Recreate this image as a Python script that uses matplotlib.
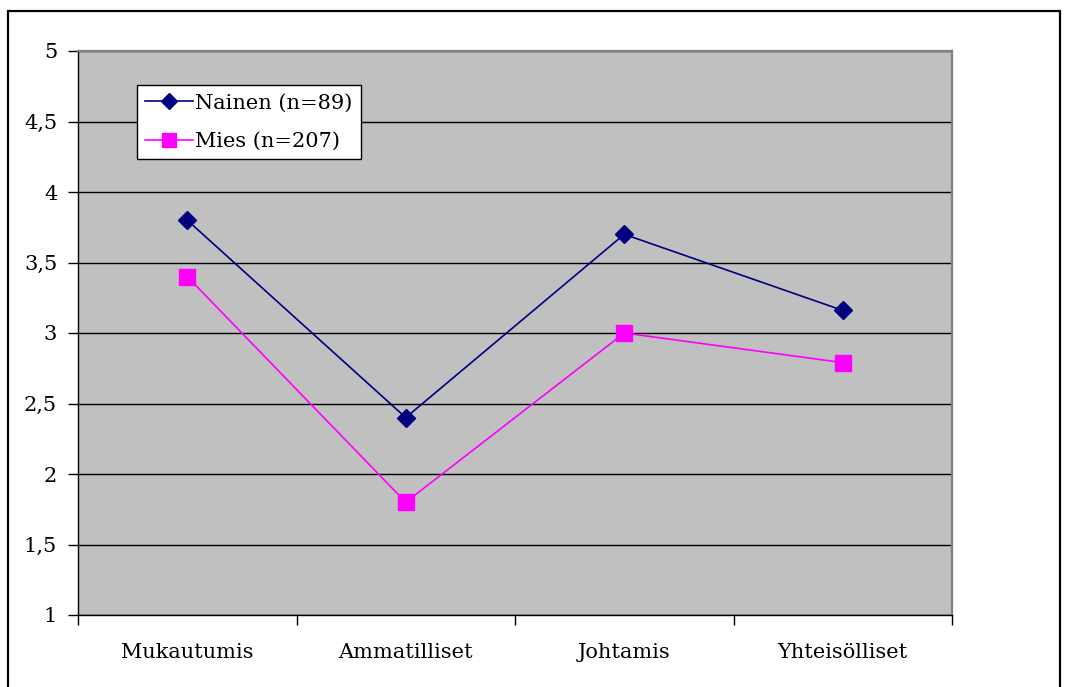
import matplotlib
matplotlib.use("Agg")
import matplotlib.pyplot as plt
from matplotlib.patches import Rectangle
from matplotlib.ticker import FixedLocator, NullFormatter

categories = ["Mukautumis", "Ammatilliset", "Johtamis", "Yhteisölliset"]
nainen = [3.8, 2.4, 3.7, 3.16]
mies = [3.4, 1.8, 3.0, 2.79]
y_ticks = [1, 1.5, 2, 2.5, 3, 3.5, 4, 4.5, 5]
y_labels = ["1", "1,5", "2", "2,5", "3", "3,5", "4", "4,5", "5"]

plt.rcParams['font.family'] = ['DejaVu Serif']

W, H = 1067, 687
fig = plt.figure(figsize=(W / 100, H / 100), dpi=100)
fig.patch.set_facecolor("white")

# outer frame
fig.patches.append(Rectangle((8 / W, -0.01), (1060 - 8) / W, (H - 11) / H + 0.01,
                             transform=fig.transFigure, fill=False,
                             edgecolor="black", linewidth=1.6))

ax = fig.add_axes([78 / W, 1 - 615 / H, (952 - 78) / W, (615 - 51) / H])
ax.set_facecolor("#C0C0C0")

x = list(range(len(categories)))
ax.plot(x, nainen, color="#000080", linewidth=1.2, marker="D", markersize=9,
        markerfacecolor="#000080", markeredgecolor="#000080", label="Nainen (n=89)",
        zorder=3)
ax.plot(x, mies, color="#FF00FF", linewidth=1.2, marker="s", markersize=11.5,
        markerfacecolor="#FF00FF", markeredgecolor="#FF00FF", label="Mies (n=207)",
        zorder=3)

ax.set_xlim(-0.5, len(categories) - 0.5)
ax.set_ylim(1, 5)
ax.set_yticks(y_ticks)
ax.set_yticklabels(y_labels)
ax.yaxis.grid(True, color="black", linewidth=1.0)
ax.set_axisbelow(True)

fs = 15
ax.set_xticks(x)
ax.set_xticklabels(categories)
ax.tick_params(axis="x", which="major", length=0, pad=20, labelsize=fs)
ax.xaxis.set_minor_locator(FixedLocator([i - 0.5 for i in range(len(categories) + 1)]))
ax.xaxis.set_minor_formatter(NullFormatter())
ax.tick_params(axis="x", which="minor", length=7, width=1, color="black", direction="out")
ax.tick_params(axis="y", length=7, width=1, color="black", direction="out", pad=8, labelsize=fs)

for s in ["left", "bottom"]:
    ax.spines[s].set_color("black")
    ax.spines[s].set_linewidth(1.0)
for s in ["top", "right"]:
    ax.spines[s].set_color("#808080")
    ax.spines[s].set_linewidth(1.6)

leg = ax.legend(loc="upper left", bbox_to_anchor=((137 - 78) / (952 - 78), 1 - (85 - 51) / (615 - 51)),
                frameon=True, fancybox=False, framealpha=1, edgecolor="black",
                fontsize=fs, handlelength=2.3, handletextpad=0.1, borderpad=0.4,
                labelspacing=0.95, borderaxespad=0, markerscale=0.9)
leg.get_frame().set_linewidth(1.0)

fig.savefig("out.png", dpi=100)
